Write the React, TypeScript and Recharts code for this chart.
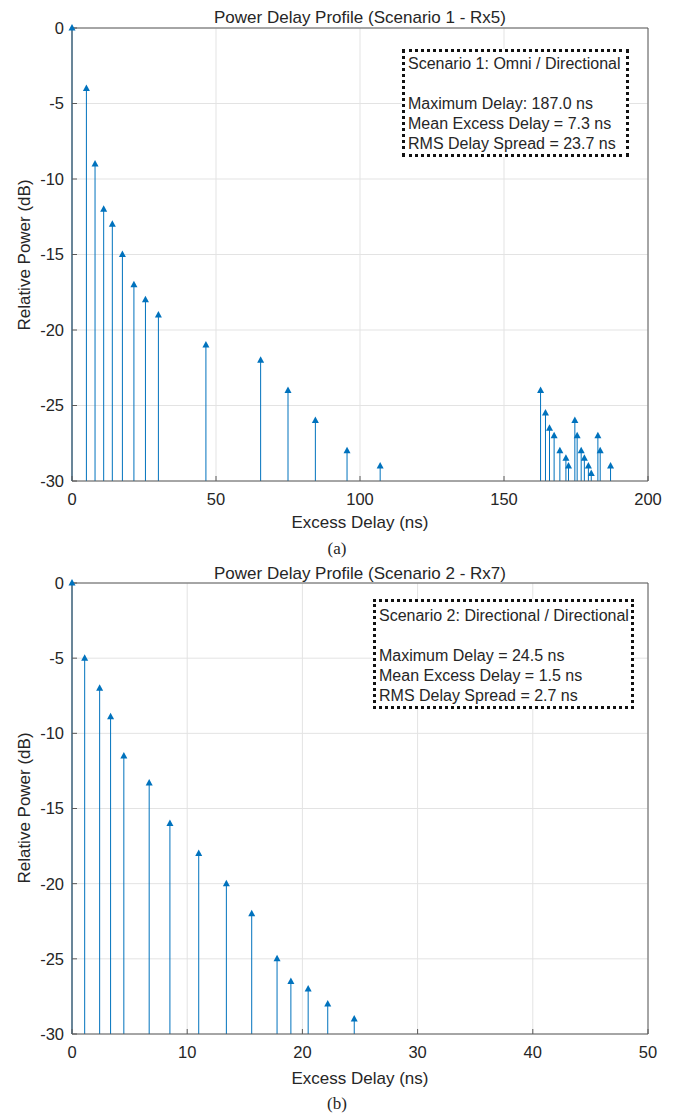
import React from "react";
import { ScatterChart, Scatter, XAxis, YAxis, CartesianGrid, ReferenceLine } from "recharts";

// Scenario 1 - Rx5 (excess delay in ns, relative power in dB)
const rx5Delay = [
  0, 5, 8, 11, 14, 17.5, 21.5, 25.5, 30, 46.5, 65.5, 75, 84.5, 95.5, 107,
  162.7, 164.4, 165.8, 167.4, 169.4, 171.5, 172.4, 174.6, 175.4, 176.8, 177.9, 179.3, 180.3, 182.6, 183.4, 187,
];
const rx5Power = [
  0, -4, -9, -12, -13, -15, -17, -18, -19, -21, -22, -24, -26, -28, -29,
  -24, -25.5, -26.5, -27, -28, -28.5, -29, -26, -27, -28, -28.5, -29, -29.5, -27, -28, -29,
];

// Scenario 2 - Rx7
const rx7Delay = [0, 1.1, 2.4, 3.35, 4.5, 6.7, 8.5, 11, 13.4, 15.6, 17.8, 19, 20.5, 22.2, 24.5];
const rx7Power = [0, -5, -7, -8.9, -11.5, -13.3, -16, -18, -20, -22, -25, -26.5, -27, -28, -29];

const rx5Ticks = [0, 50, 100, 150, 200];
const rx7Ticks = [0, 10, 20, 30, 40, 50];
const powerTicks = [-30, -25, -20, -15, -10, -5, 0];

const rx5Notes = [
  "Scenario 1: Omni / Directional",
  "",
  "Maximum Delay: 187.0 ns",
  "Mean Excess Delay = 7.3 ns",
  "RMS Delay Spread = 23.7 ns",
];
const rx7Notes = [
  "Scenario 2: Directional / Directional",
  "",
  "Maximum Delay = 24.5 ns",
  "Mean Excess Delay = 1.5 ns",
  "RMS Delay Spread = 2.7 ns",
];

const BLUE = "#0072BD";
const AXIS = "#5a5a5a";
const TEXT = "#262626";

function StemMarker(props: any) {
  const { cx, cy } = props;
  if (cx == null || cy == null) return null;
  return (
    <polygon
      points={`${cx},${cy - 4} ${cx - 3.5},${cy + 2.5} ${cx + 3.5},${cy + 2.5}`}
      fill={BLUE}
    />
  );
}

function PdpChart({ delays, powers, xTicks, bottom }: { delays: number[]; powers: number[]; xTicks: number[]; bottom: number }) {
  const data = delays.map((x, i) => ({ x, y: powers[i] }));
  const xDomain = [xTicks[0], xTicks[xTicks.length - 1]];
  const tickStyle = { fill: TEXT, fontSize: 16.5 };

  return (
    <ScatterChart width={676} height={540} margin={{ top: 27, right: 27, bottom, left: 0 }}>
      <CartesianGrid stroke="#e3e3e3" />
      <XAxis
        type="number"
        dataKey="x"
        domain={xDomain}
        ticks={xTicks}
        height={50}
        tickSize={-5}
        tickMargin={17}
        stroke={AXIS}
        tick={tickStyle}
      />
      <XAxis
        xAxisId="top"
        orientation="top"
        type="number"
        domain={xDomain}
        ticks={xTicks}
        height={1}
        tickSize={-5}
        tick={false}
        stroke={AXIS}
      />
      <YAxis
        type="number"
        dataKey="y"
        domain={[-30, 0]}
        ticks={powerTicks}
        width={72}
        tickSize={-5}
        tickMargin={13}
        stroke={AXIS}
        tick={tickStyle}
      />
      <YAxis
        yAxisId="right"
        orientation="right"
        type="number"
        domain={[-30, 0]}
        ticks={powerTicks}
        width={1}
        tickSize={-5}
        tick={false}
        stroke={AXIS}
      />
      {data.map((d, i) => (
        <ReferenceLine
          key={i}
          segment={[{ x: d.x, y: -30 }, { x: d.x, y: d.y }]}
          stroke={BLUE}
          strokeWidth={1}
          ifOverflow="visible"
        />
      ))}
      <Scatter data={data} shape={StemMarker} isAnimationActive={false} />
    </ScatterChart>
  );
}

function Label({ x, y, size, children, serif, rotate }: any) {
  return (
    <div
      style={{
        position: "absolute",
        left: x,
        top: y,
        transform: `translate(-50%, -50%)${rotate ? " rotate(-90deg)" : ""}`,
        whiteSpace: "nowrap",
        fontSize: size,
        lineHeight: 1,
        fontFamily: serif ? '"Liberation Serif", "Times New Roman", serif' : undefined,
      }}
    >
      {children}
    </div>
  );
}

function NoteBox({ lines, left, top, width, padTop }: { lines: string[]; left: number; top: number; width: number; padTop: number }) {
  return (
    <div
      style={{
        position: "absolute",
        left,
        top,
        width,
        boxSizing: "border-box",
        border: "3px dotted #111",
        background: "#fff",
        padding: `${padTop}px 2px 0 3px`,
        fontSize: 16,
        lineHeight: "20px",
        whiteSpace: "nowrap",
      }}
    >
      {lines.map((l, i) => (
        <div key={i} style={{ height: 20 }}>{l}</div>
      ))}
    </div>
  );
}

export default function App() {
  return (
    <div
      style={{
        position: "absolute",
        left: 0,
        top: 0,
        width: 676,
        height: 1117,
        background: "#fff",
        overflow: "hidden",
        fontFamily: '"Liberation Sans", Arial, sans-serif',
        color: TEXT,
      }}
    >
      <div style={{ position: "absolute", left: 0, top: 0 }}>
        <PdpChart delays={rx5Delay} powers={rx5Power} xTicks={rx5Ticks} bottom={9} />
      </div>
      <Label x={360} y={17} size={17}>Power Delay Profile (Scenario 1 - Rx5)</Label>
      <Label x={24} y={255} size={17} rotate>Relative Power (dB)</Label>
      <Label x={360} y={522} size={17}>Excess Delay (ns)</Label>
      <Label x={337} y={548} size={17} serif>(a)</Label>
      <NoteBox lines={rx5Notes} left={402} top={49} width={227} padTop={2} />

      <div style={{ position: "absolute", left: 0, top: 555 }}>
        <PdpChart delays={rx7Delay} powers={rx7Power} xTicks={rx7Ticks} bottom={11} />
      </div>
      <Label x={360} y={573} size={17}>Power Delay Profile (Scenario 2 - Rx7)</Label>
      <Label x={24} y={808} size={17} rotate>Relative Power (dB)</Label>
      <Label x={360} y={1078} size={17}>Excess Delay (ns)</Label>
      <Label x={337} y={1103} size={17} serif>(b)</Label>
      <NoteBox lines={rx7Notes} left={373} top={599} width={261} padTop={4} />
    </div>
  );
}
